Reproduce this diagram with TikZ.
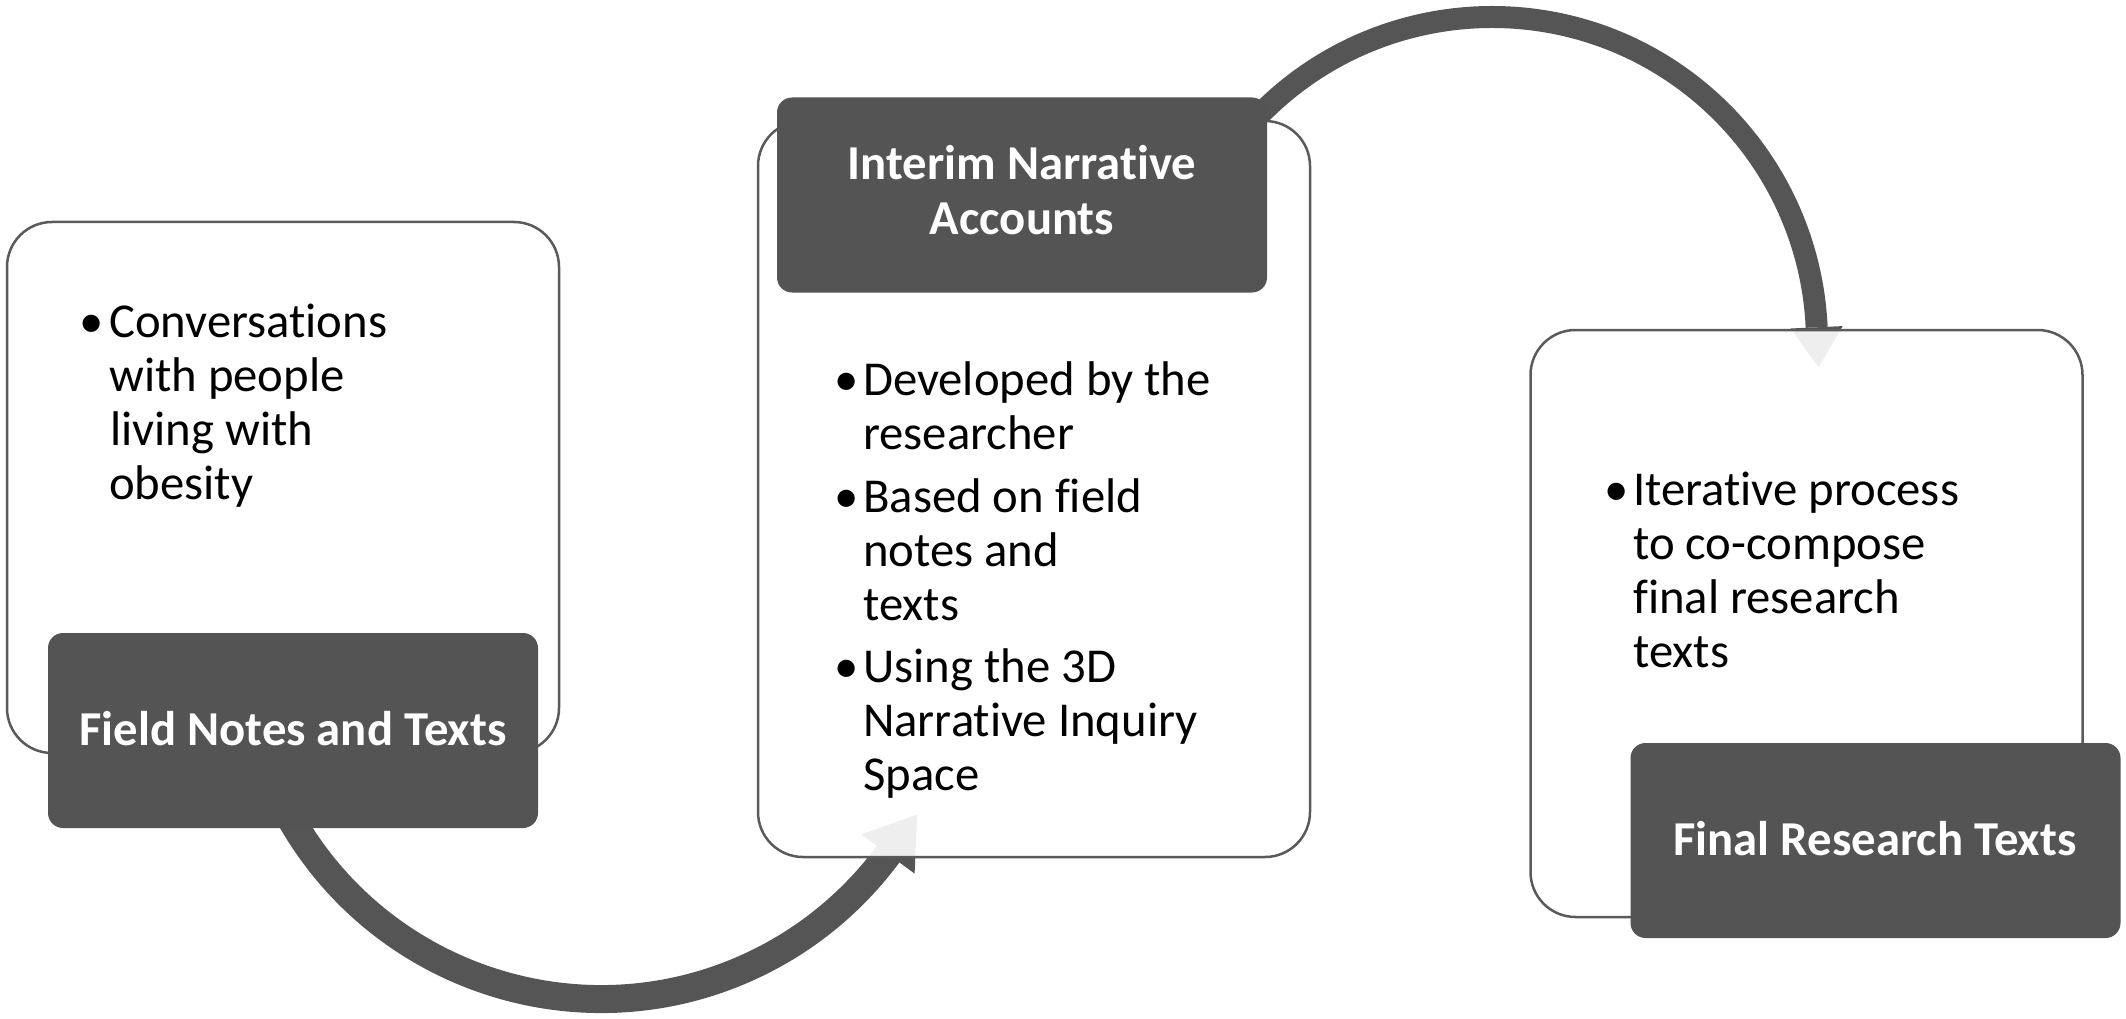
\documentclass[tikz,border=0pt]{standalone}
\usepackage{fontspec}
\setmainfont{Carlito}[Ligatures={NoCommon,NoRare,NoContextual}]
\usetikzlibrary{calc}
\definecolor{darkbox}{HTML}{545454}
\definecolor{edgecol}{HTML}{5A5A5A}
\definecolor{arrowcol}{HTML}{555555}
\begin{document}
\begin{tikzpicture}[x=1pt,y=1pt,
  whitebox/.style={draw=edgecol, line width=2.5pt, fill=white, fill opacity=0.9, rounded corners=45pt, inner sep=0pt, minimum width=552pt},
  darklabel/.style={fill=darkbox, rounded corners=15pt, inner sep=0pt, minimum width=490pt, minimum height=195pt},
  headtext/.style={text=white, font=\fontsize{48.7}{55}\selectfont\bfseries, inner sep=0pt, anchor=base},
  bodytext/.style={text=black, font=\fontsize{48.7}{54}\selectfont, inner sep=0pt, anchor=base west},
  bulletmark/.style={text=black, font=\fontsize{48.7}{54}\selectfont, inner sep=0pt, anchor=base},
  flow/.style={draw=arrowcol, line width=#1},
  flowhead/.style={fill=arrowcol}
]
\useasboundingbox (0,0) rectangle (2126,-1019);

% ---- arcs (drawn first, boxes lie over them) ----
\coordinate (c1) at (601,-642);
\coordinate (a1s) at ($(c1)+(208:357)$);
\coordinate (a1e) at ($(c1)+(323.6:357)$);
\coordinate (a1tip) at (917.1,-814.6);
\coordinate (a1l) at (914.6,-873.6);
\coordinate (a1r) at (861.4,-834.4);
\draw[flow=28pt] (a1s) arc[start angle=208, end angle=323.6, radius=357];
\fill[flowhead] (a1l) -- (a1tip) -- (a1r) -- cycle;

\coordinate (c2) at (1492,-342);
\coordinate (a2s) at ($(c2)+(140:325)$);
\coordinate (a2e) at ($(c2)+(2.6:325)$);
\coordinate (a2tip) at (1818.5,-367.3);
\coordinate (a2l) at (1842.7,-326.1);
\coordinate (a2r) at (1790.7,-328.5);
\draw[flow=22pt] (a2s) arc[start angle=140, end angle=2.6, radius=325];
\fill[flowhead] (a2l) -- (a2tip) -- (a2r) -- cycle;

% ---- white boxes ----
\node[whitebox, minimum height=531pt] (leftbox) at (283,-487.5) {};
\node[whitebox, minimum height=736pt] (midbox) at (1034,-489) {};
\node[whitebox, minimum height=587pt] (rightbox) at (1806.5,-623.5) {};

% ---- dark labels ----
\node[darklabel] (leftlabel) at (293,-730.5) {};
\node[darklabel] (midlabel) at (1022,-195) {};
\node[darklabel] (rightlabel) at (1875.5,-840.5) {};

\node[headtext] (lefthead) at (293,-745) {Field Notes and Texts};
\node[headtext] (midhead1) at (1022,-180) {Interim Narrative};
\node[headtext] (midhead2) at (1022,-235) {Accounts};
\node[headtext] (righthead) at (1875,-855) {Final Research Texts};

% ---- left box text ----
\node[bulletmark] (lb1) at (92,-337) {\textbullet};
\node[bodytext] (lt1) at (109,-337) {Conversations};
\node[bodytext] (lt2) at (109,-391) {with people};
\node[bodytext] (lt3) at (110,-445) {living with};
\node[bodytext] (lt4) at (109,-499) {obesity};

% ---- middle box text ----
\node[bulletmark] (mb1) at (847,-395) {\textbullet};
\node[bodytext] (mt1) at (863,-395) {Developed by the};
\node[bodytext] (mt2) at (863,-449) {researcher};
\node[bulletmark] (mb2) at (847,-512) {\textbullet};
\node[bodytext] (mt3) at (863,-512) {Based on field};
\node[bodytext] (mt4) at (863,-566) {notes and};
\node[bodytext] (mt5) at (863,-620) {texts};
\node[bulletmark] (mb3) at (847,-682) {\textbullet};
\node[bodytext] (mt6) at (863,-682) {Using the 3D};
\node[bodytext] (mt7) at (863,-736) {Narrative Inquiry};
\node[bodytext] (mt8) at (863,-790) {Space};

% ---- right box text ----
\node[bulletmark] (rb1) at (1617,-505) {\textbullet};
\node[bodytext] (rt1) at (1633,-505) {Iterative process};
\node[bodytext] (rt2) at (1633,-559) {to co-compose};
\node[bodytext] (rt3) at (1633,-613) {final research};
\node[bodytext] (rt4) at (1633,-667) {texts};
\end{tikzpicture}
\end{document}
